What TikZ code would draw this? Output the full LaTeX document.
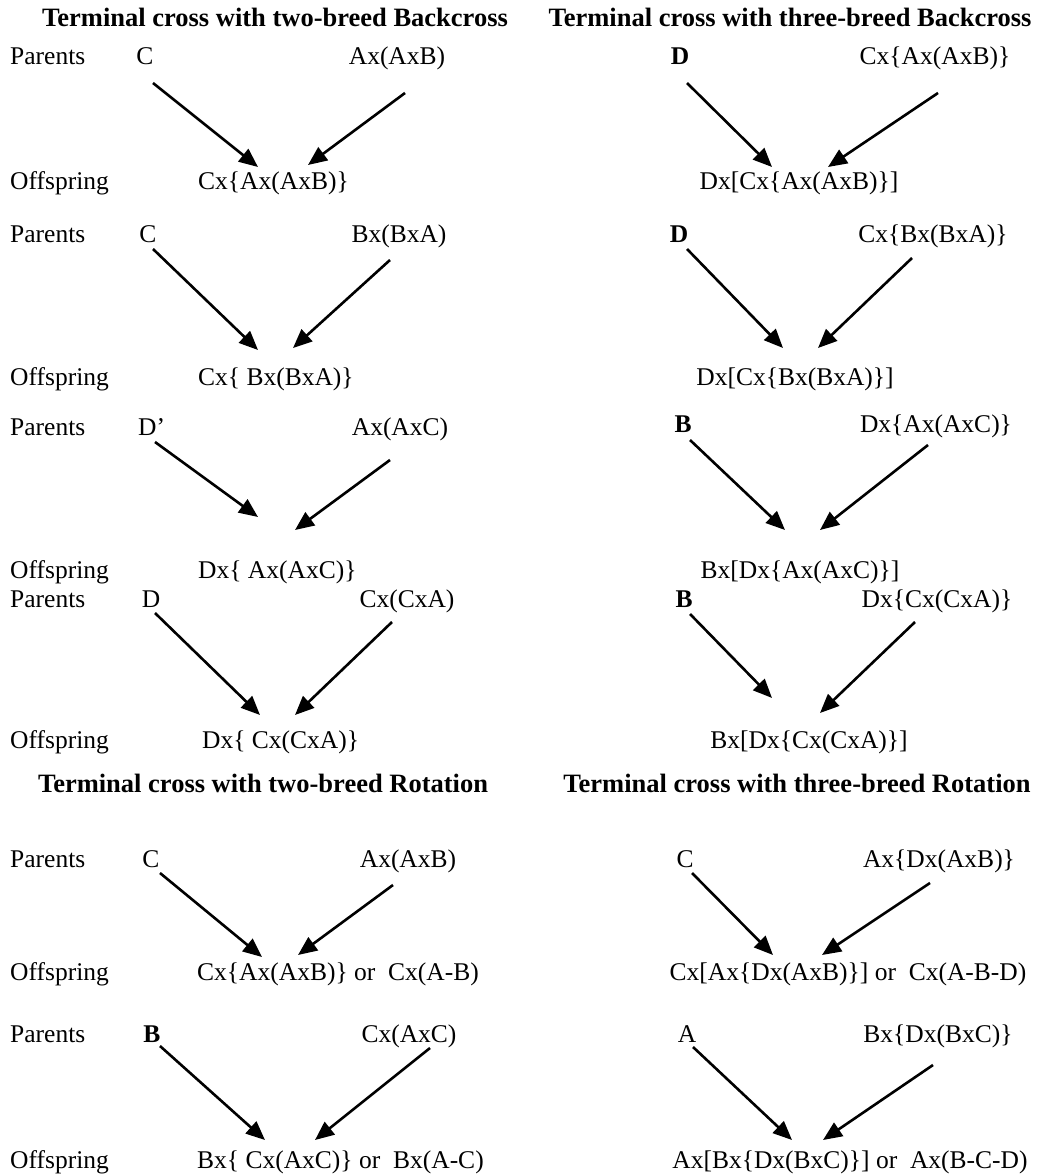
\documentclass[tikz,border=0pt]{standalone}
\usepackage{fontspec}
\setmainfont{Liberation Serif}
\usetikzlibrary{arrows.meta}
\begin{document}
\begin{tikzpicture}[x=1pt,y=-1pt,
  lbl/.style={anchor=base west,inner sep=0pt,font=\fontsize{25.5}{30}\selectfont},
  brd/.style={anchor=base,inner sep=0pt,font=\fontsize{25.5}{30}\selectfont},
  brdl/.style={brd,anchor=base west},
  bbrd/.style={brd,font=\fontsize{25.5}{30}\selectfont\bfseries},
  ttl/.style={anchor=base,inner sep=0pt,font=\fontsize{26.5}{30}\selectfont\bfseries},
  cross/.style={line width=2.6pt,-{Triangle[length=19pt,width=16pt]}}]
\useasboundingbox[fill=white] (0,0) rectangle (1040,1174);

% ---------- headings ----------
\node[ttl] (t1) at (275,27) {Terminal cross with two-breed Backcross};
\node[ttl] (t2) at (790,27) {Terminal cross with three-breed Backcross};
\node[ttl] (t3) at (263,792) {Terminal cross with two-breed Rotation};
\node[ttl] (t4) at (797,792) {Terminal cross with three-breed Rotation};

% ---------- row labels ----------
\node[lbl] (p1) at (10,65)  {Parents};
\node[lbl] (q1) at (10,190) {Offspring};
\node[lbl] (p2) at (10,243) {Parents};
\node[lbl] (q2) at (10,385) {Offspring};
\node[lbl] (p3) at (10,435) {Parents};
\node[lbl] (q3) at (10,578) {Offspring};
\node[lbl] (p4) at (10,607) {Parents};
\node[lbl] (q4) at (10,748) {Offspring};
\node[lbl] (p5) at (10,867) {Parents};
\node[lbl] (q5) at (10,980) {Offspring};
\node[lbl] (p6) at (10,1042) {Parents};
\node[lbl] (q6) at (10,1168) {Offspring};

% ---------- two-breed backcross ----------
\node[brd] (c1) at (145,65) {C};
\node[brd] (a1) at (397,65) {Ax(AxB)};
\node[brdl] (o1) at (198,190) {Cx\{Ax(AxB)\}};
\draw[cross] ([shift={(8,18)}]c1.base) -- ([shift={(60,-23)}]o1.base west);
\draw[cross] ([shift={(8,28)}]a1.base) -- ([shift={(110,-25)}]o1.base west);

\node[brd] (c2) at (148,243) {C};
\node[brd] (a2) at (399,243) {Bx(BxA)};
\node[brdl] (o2) at (198,385) {Cx\{ Bx(BxA)\}};
\draw[cross] ([shift={(5,6)}]c2.base) -- ([shift={(60,-35)}]o2.base west);
\draw[cross] ([shift={(-9,17)}]a2.base) -- ([shift={(95,-37)}]o2.base west);

\node[brdl] (c3) at (138,435) {D'};
\node[brd] (a3) at (400,435) {Ax(AxC)};
\node[brdl] (o3) at (198,578) {Dx\{ Ax(AxC)\}};
\draw[cross] ([shift={(17,7)}]c3.base west) -- ([shift={(60,-61)}]o3.base west);
\draw[cross] ([shift={(-10,25)}]a3.base) -- ([shift={(97,-48)}]o3.base west);

\node[brd] (c4) at (151,607) {D};
\node[brd] (a4) at (407,607) {Cx(CxA)};
\node[brdl] (o4) at (202,748) {Dx\{ Cx(CxA)\}};
\draw[cross] ([shift={(4,6)}]c4.base) -- ([shift={(58,-33)}]o4.base west);
\draw[cross] ([shift={(-15,15)}]a4.base) -- ([shift={(93,-33)}]o4.base west);

% ---------- two-breed rotation ----------
\node[brd] (c5) at (151,867) {C};
\node[brd] (a5) at (408,867) {Ax(AxB)};
\node[brdl] (o5) at (197,980) {Cx\{Ax(AxB)\} or\ \ Cx(A-B)};
\draw[cross] ([shift={(9,6)}]c5.base) -- ([shift={(65,-23)}]o5.base west);
\draw[cross] ([shift={(-15,18)}]a5.base) -- ([shift={(101,-25)}]o5.base west);

\node[bbrd] (c6) at (152,1042) {B};
\node[brd] (a6) at (409,1042) {Cx(AxC)};
\node[brdl] (o6) at (197,1168) {Bx\{ Cx(AxC)\} or\ \ Bx(A-C)};
\draw[cross] ([shift={(8,4)}]c6.base) -- ([shift={(68,-28)}]o6.base west);
\draw[cross] ([shift={(21,6)}]a6.base) -- ([shift={(118,-28)}]o6.base west);

% ---------- three-breed backcross ----------
\node[bbrd] (r1) at (680,65) {D};
\node[brd] (s1) at (935,65) {Cx\{Ax(AxB)\}};
\node[brd] (u1) at (799,190) {Dx[Cx\{Ax(AxB)\}]};
\draw[cross] ([shift={(7,18)}]r1.base) -- ([shift={(-27,-23)}]u1.base);
\draw[cross] ([shift={(3,28)}]s1.base) -- ([shift={(29,-23)}]u1.base);

\node[bbrd] (r2) at (679,243) {D};
\node[brd] (s2) at (933,243) {Cx\{Bx(BxA)\}};
\node[brd] (u2) at (795,385) {Dx[Cx\{Bx(BxA)\}]};
\draw[cross] ([shift={(8,6)}]r2.base) -- ([shift={(-12,-37)}]u2.base);
\draw[cross] ([shift={(-21,15)}]s2.base) -- ([shift={(23,-37)}]u2.base);

\node[bbrd] (r3) at (683,432) {B};
\node[brd] (s3) at (936,432) {Dx\{Ax(AxC)\}};
\node[brd] (u3) at (800,578) {Bx[Dx\{Ax(AxC)\}]};
\draw[cross] ([shift={(7,8)}]r3.base) -- ([shift={(-15,-48)}]u3.base);
\draw[cross] ([shift={(-8,13)}]s3.base) -- ([shift={(20,-48)}]u3.base);

\node[bbrd] (r4) at (684,607) {B};
\node[brd] (s4) at (937,607) {Dx\{Cx(CxA)\}};
\node[brd] (u4) at (809,748) {Bx[Dx\{Cx(CxA)\}]};
\draw[cross] ([shift={(6,7)}]r4.base) -- ([shift={(-37,-50)}]u4.base);
\draw[cross] ([shift={(-22,15)}]s4.base) -- ([shift={(11,-35)}]u4.base);

% ---------- three-breed rotation ----------
\node[brd] (r5) at (685,867) {C};
\node[brd] (s5) at (939,867) {Ax\{Dx(AxB)\}};
\node[brd] (u5) at (848,980) {Cx[Ax\{Dx(AxB)\}] or\ \ Cx(A-B-D)};
\draw[cross] ([shift={(7,6)}]r5.base) -- ([shift={(-75,-25)}]u5.base);
\draw[cross] ([shift={(-9,16)}]s5.base) -- ([shift={(-26,-25)}]u5.base);

\node[brd] (r6) at (687,1042) {A};
\node[brd] (s6) at (938,1042) {Bx\{Dx(BxC)\}};
\node[brd] (u6) at (850,1168) {Ax[Bx\{Dx(BxC)\}] or\ \ Ax(B-C-D)};
\draw[cross] ([shift={(6,5)}]r6.base) -- ([shift={(-58,-28)}]u6.base);
\draw[cross] ([shift={(-5,23)}]s6.base) -- ([shift={(-27,-28)}]u6.base);
\end{tikzpicture}
\end{document}
